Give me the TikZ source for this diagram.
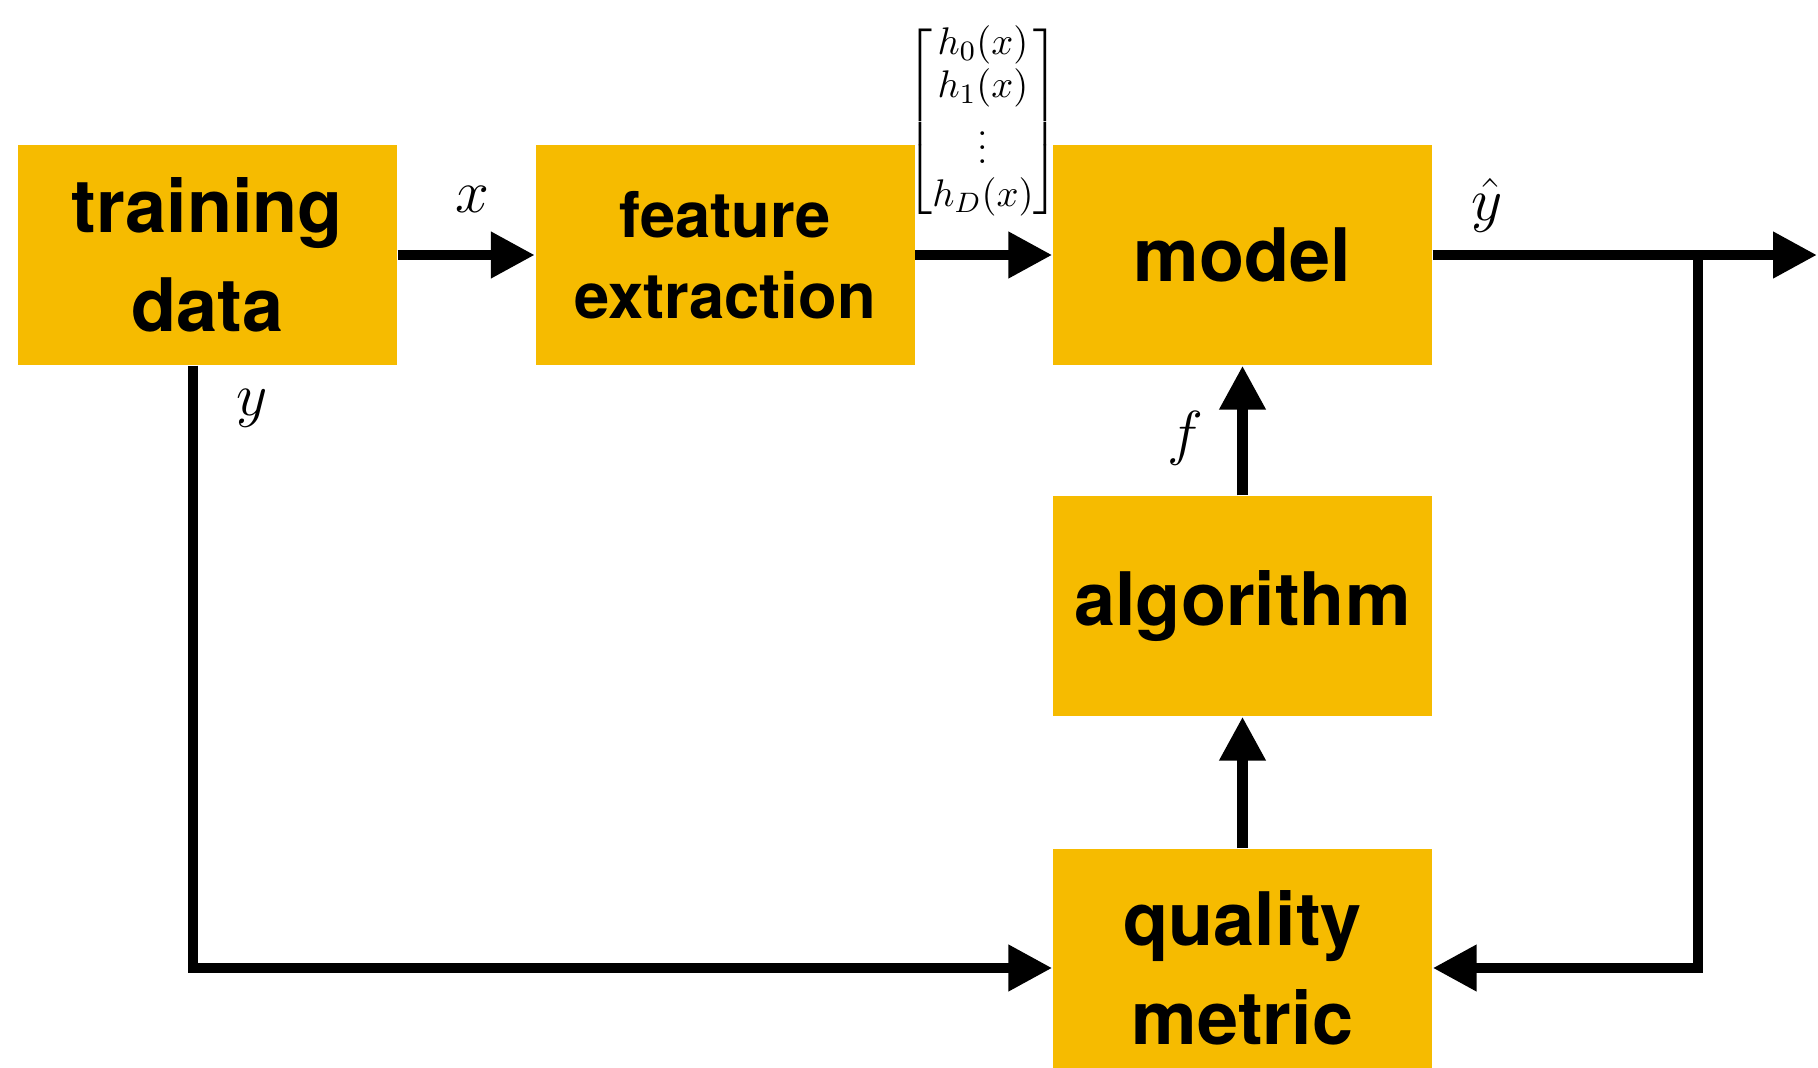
\documentclass[tikz,border=0pt]{standalone}
\usepackage{amsmath,amssymb}
\usepackage{fontspec}
\setsansfont{TeX Gyre Heros}
\usepackage{xcolor}
\usepackage{tikz}
\usetikzlibrary{positioning, calc, arrows.meta}

\definecolor{boxyellow}{RGB}{246,187,0}

\begin{document}
\begin{tikzpicture}[
        block/.style={fill=boxyellow, minimum width=3.79cm, minimum height=2.20cm,
                      inner sep=0pt, align=center,
                      font=\sffamily\bfseries\fontsize{21}{28}\selectfont},
        flow/.style={line width=3pt, line join=miter,
                     -{Triangle[length=12.5pt, width=12.5pt]}},
        lbl/.style={inner sep=0pt, font=\fontsize{18}{22}\selectfont}
    ]
        \useasboundingbox (0,0) rectangle (18.18,10.67);

        % ===================================================
        % 1. TOP ROW: DATA -> FEATURES -> MODEL
        % ===================================================
        \node[block] (td) at (2.075, 8.12) {training\\data};
        \node[block, font=\sffamily\bfseries\fontsize{18}{23}\selectfont] (fe) at (7.25, 8.12) {feature\\extraction};
        \node[block] (md) at (12.425, 8.12) {model};

        \draw[flow] (td) -- (fe);
        \draw[flow] (fe) -- (md);
        \node[lbl] (xlbl) at (4.72, 8.68) {$x$};

        % feature vector above the model input
        \node[inner sep=0pt, font=\fontsize{11}{13}\selectfont] (hvec) at (9.83, 9.45)
            {\renewcommand{\arraystretch}{0.94}$\begin{bmatrix} h_0(x)\\ h_1(x)\\ \vdots\\ h_D(x) \end{bmatrix}$};

        % ===================================================
        % 2. RIGHT COLUMN: ALGORITHM & QUALITY METRIC
        % ===================================================
        \node[block] (al) at (12.425, 4.61) {algorithm};
        \node[block, minimum height=2.38cm] (qm) at (12.425, 0.99) {quality\\metric};

        \draw[flow] (qm) -- (al);
        \draw[flow] (al) -- (md);
        \node[lbl] (flbl) at (11.85, 6.29) {$f$};

        % ===================================================
        % 3. OUTPUT & FEEDBACK LOOPS
        % ===================================================
        \coordinate (out) at (18.17, 8.12);
        \coordinate (split) at (16.98, 8.12);
        \coordinate (ytap) at (1.93, 0);

        \draw[flow] (md.east) -- (out);
        \draw[flow] (split) |- (qm.east);
        \node[lbl] (yhat) at (14.87, 8.62) {$\hat{y}$};

        % true labels from training data down to the metric
        \draw[flow] (td.south -| ytap) |- (qm.west);
        \node[lbl] (ylbl) at (2.52, 6.59) {$y$};

    \end{tikzpicture}
\end{document}
